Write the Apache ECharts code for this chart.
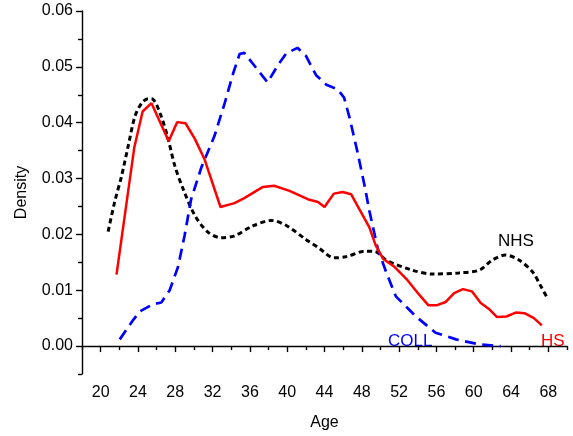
<!DOCTYPE html>
<html>
<head>
<meta charset="utf-8">
<script src="https://cdn.jsdelivr.net/npm/echarts@6/dist/echarts.min.js"></script>
<style>
  html, body { margin: 0; padding: 0; background: #fff; }
  #main { width: 573px; height: 436px; }
</style>
</head>
<body>
<div id="main"></div>
<script>
// tick values
var xMajorTicks = [20, 24, 28, 32, 36, 40, 44, 48, 52, 56, 60, 64, 68];
var xMinorTicks = [18, 22, 26, 30, 34, 38, 42, 46, 50, 54, 58, 62, 66, 70];
var yMajorTicks = [0, 0.01, 0.02, 0.03, 0.04, 0.05, 0.06];
var yMinorTicks = [-0.005, 0.005, 0.015, 0.025, 0.035, 0.045, 0.055];

// HS (red, solid)
var hsAge = [21.7, 23.6, 24.5, 25.45, 27.3, 28.2, 29.1, 30.1, 31.15, 32.85, 34.35, 35.4,
  37.4, 38.6, 40.25, 42.2, 43.3, 44.0, 45.0, 45.95, 46.85, 47.7, 48.8, 49.5, 50.3, 51.5,
  52.9, 54.15, 55.15, 56.0, 57.0, 57.9, 58.85, 59.8, 60.75, 61.6, 62.5, 63.5, 64.5, 65.45,
  66.45, 67.3];
var hsDensity = [0.0128, 0.0355, 0.0420, 0.0435, 0.0367, 0.0401, 0.0399, 0.0371, 0.0334,
  0.0249, 0.0256, 0.0265, 0.0285, 0.0287, 0.0278, 0.0263, 0.0258, 0.0249, 0.0273, 0.0276,
  0.0272, 0.0246, 0.0213, 0.0180, 0.0156, 0.0142, 0.0118, 0.0092, 0.0073, 0.0073, 0.0079,
  0.0095, 0.0102, 0.0098, 0.0077, 0.0067, 0.0052, 0.0053, 0.0060, 0.0059, 0.0050, 0.0037];

// NHS (black, dotted)
var nhsAge = [20.8, 21.5, 22.25, 22.95, 23.67, 24.4, 25.1, 25.6, 26.5, 27.2, 27.95, 28.85,
  30.1, 31.5, 32.9, 34.3, 36.3, 38.3, 39.9, 42.0, 43.45, 45.0, 46.3, 48.4, 49.5, 50.6,
  53.4, 55.6, 58.4, 60.6, 62.0, 63.4, 64.85, 66.3, 67.2, 67.8];
var nhsDensity = [0.0205, 0.0258, 0.0305, 0.0358, 0.0411, 0.0435, 0.0443, 0.0442, 0.0411,
  0.0373, 0.0323, 0.0281, 0.0234, 0.0204, 0.0194, 0.0197, 0.0215, 0.0225, 0.0216, 0.0191,
  0.0175, 0.0158, 0.0160, 0.0170, 0.0169, 0.0154, 0.0136, 0.0129, 0.0131, 0.0136, 0.0154,
  0.0163, 0.0154, 0.0133, 0.0107, 0.0089];

// COLL (blue, dashed)
var collAge = [22.05, 23.5, 24.2, 25.6, 26.5, 27.4, 28.3, 29.0, 29.7, 30.8, 32.2, 33.3,
  34.2, 34.9, 35.4, 36.3, 37.9, 39.0, 39.9, 41.1, 42.0, 43.1, 44.2, 45.4, 46.1, 46.7,
  47.5, 48.3, 48.8, 49.7, 50.6, 51.65, 53.8, 55.9, 58.1, 60.6, 62.9];
var collDensity = [0.0012, 0.0047, 0.0062, 0.0075, 0.0078, 0.0100, 0.0142, 0.0198, 0.0263,
  0.0320, 0.0376, 0.0435, 0.0488, 0.0523, 0.0525, 0.0506, 0.0472, 0.0503, 0.0524, 0.0534,
  0.0520, 0.0485, 0.0468, 0.0460, 0.0445, 0.0408, 0.0350, 0.0287, 0.0243, 0.0175, 0.0133,
  0.0089, 0.0053, 0.0024, 0.0012, 0.0003, 0.0000];

function pairs(xs, ys) {
  return xs.map(function (x, i) { return [x, ys[i]]; });
}

var font = "'Liberation Sans', Arial, sans-serif";
var myChart = echarts.init(document.getElementById('main'));

var option = {
  animation: false,
  textStyle: { fontFamily: font },
  grid: { left: 82, right: 6, top: 11, bottom: 60 },
  xAxis: [
    {
      type: 'value',
      min: 18,
      max: 70,
      name: 'Age',
      nameLocation: 'middle',
      nameGap: 41,
      nameTextStyle: { color: '#000', fontSize: 16, fontFamily: font },
      axisLine: { show: true, lineStyle: { color: '#000', width: 1.4 } },
      axisTick: { show: true, customValues: xMajorTicks, length: 6, lineStyle: { color: '#000', width: 1.4 } },
      axisLabel: { customValues: xMajorTicks, color: '#000', fontSize: 16, margin: 11, fontFamily: font },
      splitLine: { show: false }
    },
    {
      type: 'value',
      min: 18,
      max: 70,
      position: 'bottom',
      axisLine: { show: false },
      axisTick: { show: true, customValues: xMinorTicks, length: 4, lineStyle: { color: '#000', width: 1.4 } },
      axisLabel: { show: false },
      splitLine: { show: false }
    }
  ],
  yAxis: [
    {
      type: 'value',
      min: -0.005,
      max: 0.06,
      name: 'Density',
      nameLocation: 'middle',
      nameGap: 52,
      nameTextStyle: { color: '#000', fontSize: 16, fontFamily: font },
      axisLine: { show: true, lineStyle: { color: '#000', width: 1.4 } },
      axisTick: { show: true, customValues: yMajorTicks, length: 6, lineStyle: { color: '#000', width: 1.4 } },
      axisLabel: {
        customValues: yMajorTicks,
        color: '#000',
        fontSize: 16,
        margin: 9,
        fontFamily: font,
        formatter: function (v) { return v.toFixed(2); }
      },
      splitLine: { show: false }
    },
    {
      type: 'value',
      min: -0.005,
      max: 0.06,
      position: 'left',
      axisLine: { show: false },
      axisTick: { show: true, customValues: yMinorTicks, length: 4, lineStyle: { color: '#000', width: 1.4 } },
      axisLabel: { show: false },
      splitLine: { show: false }
    }
  ],
  series: [
    {
      name: 'NHS',
      type: 'line',
      data: pairs(nhsAge, nhsDensity),
      showSymbol: false,
      smooth: 0.3,
      lineStyle: { color: '#000', width: 3, type: [5, 3.5] }
    },
    {
      name: 'COLL',
      type: 'line',
      data: pairs(collAge, collDensity),
      showSymbol: false,
      lineStyle: { color: '#0000ff', width: 2.7, type: [11, 6.5] }
    },
    {
      name: 'HS',
      type: 'line',
      data: pairs(hsAge, hsDensity),
      showSymbol: false,
      lineStyle: { color: '#ff0000', width: 2.5 }
    }
  ],
  graphic: [
    { type: 'text', left: 498, top: 233, style: { text: 'NHS', fill: '#000', fontSize: 17, fontFamily: font } },
    { type: 'text', left: 388, top: 333, style: { text: 'COLL', fill: '#0000ff', fontSize: 17, fontFamily: font } },
    { type: 'text', left: 541, top: 333, style: { text: 'HS', fill: '#ff0000', fontSize: 17, fontFamily: font } }
  ]
};

myChart.setOption(option);
</script>
</body>
</html>
